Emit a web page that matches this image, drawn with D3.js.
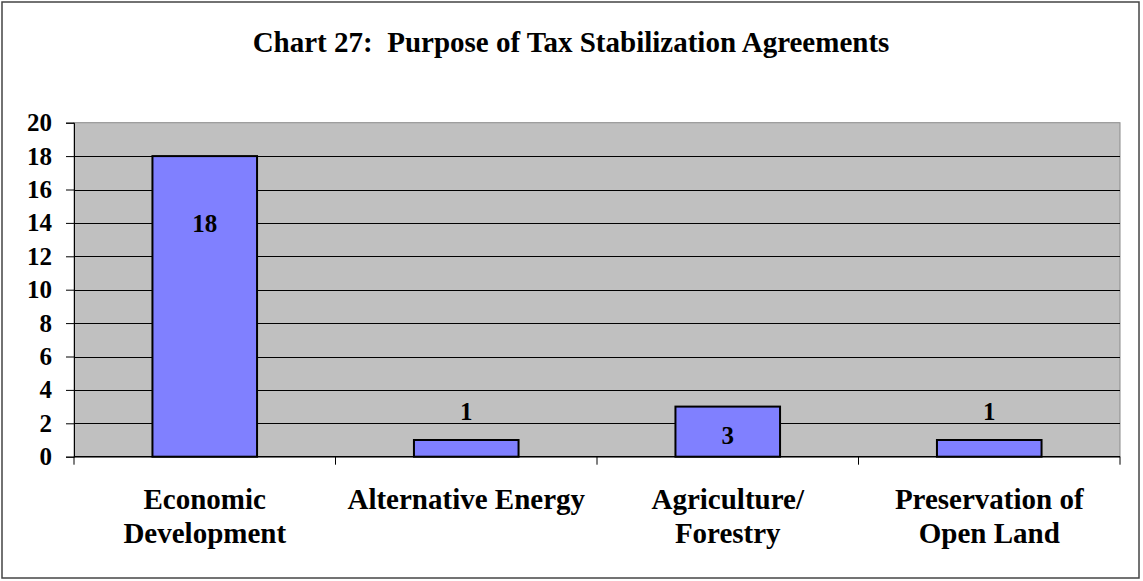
<!DOCTYPE html>
<html lang="en">

<head>
    <meta charset="UTF-8">
    <title>Chart 27: Purpose of Tax Stabilization Agreements</title>
    <script src="https://cdn.jsdelivr.net/npm/d3@7"></script>
    <style>
        html,
        body {
            margin: 0;
            padding: 0;
            background: #fff;
        }

        svg text {
            font-family: "Liberation Serif", "DejaVu Serif", serif;
            font-weight: bold;
            fill: #000;
        }
    </style>
</head>

<body>
    <div id="chart"></div>
    <script>
        // Chart data
        const categories = ['Economic Development', 'Alternative Energy', 'Agriculture/ Forestry', 'Preservation of Open Land'];
        const categoryLines = [['Economic', 'Development'], ['Alternative Energy'], ['Agriculture/', 'Forestry'], ['Preservation of', 'Open Land']];
        const counts = [18, 1, 3, 1];
        const labelAt = [14, 2.7, 1.3, 2.7]; // where Excel put the value labels (in data units)
        const yTicks = [0, 2, 4, 6, 8, 10, 12, 14, 16, 18, 20];

        const width = 1143, height = 581;
        const plot = { left: 74, right: 1120, top: 122.7, bottom: 456.7 };

        const svg = d3.select('#chart').append('svg')
            .attr('width', width)
            .attr('height', height);

        // outer frame
        svg.append('rect')
            .attr('x', 2).attr('y', 2)
            .attr('width', 1137).attr('height', 576)
            .attr('fill', '#fff')
            .attr('stroke', '#444')
            .attr('stroke-width', 1.5);

        // title
        svg.append('text')
            .attr('x', 571)
            .attr('y', 52)
            .attr('text-anchor', 'middle')
            .style('font-size', '29px')
            .style('white-space', 'pre')
            .text('Chart 27:  Purpose of Tax Stabilization Agreements');

        // scales
        const x = d3.scaleBand()
            .domain(categories)
            .range([plot.left, plot.right])
            .paddingInner(0.6)
            .paddingOuter(0.3);

        const xCat = d3.scaleBand()
            .domain(categories)
            .range([plot.left, plot.right]);

        const y = d3.scaleLinear()
            .domain([0, 20])
            .range([plot.bottom, plot.top]);

        // plot background
        svg.append('rect')
            .attr('x', plot.left).attr('y', plot.top)
            .attr('width', plot.right - plot.left)
            .attr('height', plot.bottom - plot.top)
            .attr('fill', '#c0c0c0')
            .attr('stroke', '#8a8a8a')
            .attr('stroke-width', 1);

        // gridlines
        svg.append('g')
            .selectAll('line')
            .data(yTicks.filter(d => d > 0 && d < 20))
            .join('line')
            .attr('x1', plot.left).attr('x2', plot.right)
            .attr('y1', d => Math.round(y(d)) + 0.5)
            .attr('y2', d => Math.round(y(d)) + 0.5)
            .attr('stroke', '#000')
            .attr('stroke-width', 1);

        // y axis
        const yAxis = svg.append('g')
            .attr('transform', `translate(${plot.left},0)`)
            .call(d3.axisLeft(y).tickValues(yTicks).tickSize(8).tickPadding(14));
        yAxis.attr('font-family', null);
        yAxis.select('.domain').attr('stroke', '#000');
        yAxis.selectAll('.tick text').style('font-size', '25px');

        // x axis with ticks between categories
        const xAxis = svg.append('g')
            .attr('transform', `translate(0,${plot.bottom})`);
        xAxis.append('line')
            .attr('x1', plot.left).attr('x2', plot.right)
            .attr('stroke', '#000')
            .attr('stroke-width', 1.5);
        const bounds = categories.map(c => xCat(c)).concat([plot.right]);
        xAxis.selectAll('.sep')
            .data(bounds)
            .join('line')
            .attr('class', 'sep')
            .attr('x1', d => d).attr('x2', d => d)
            .attr('y1', 0).attr('y2', 8)
            .attr('stroke', '#000');

        // category labels
        const catLabels = svg.append('g')
            .selectAll('text')
            .data(categories)
            .join('text')
            .attr('x', d => xCat(d) + xCat.bandwidth() / 2)
            .attr('y', 509)
            .attr('text-anchor', 'middle')
            .style('font-size', '29px');
        catLabels.selectAll('tspan')
            .data((d, i) => categoryLines[i])
            .join('tspan')
            .attr('x', function () { return this.parentNode.getAttribute('x'); })
            .attr('dy', (d, i) => i === 0 ? 0 : 34)
            .text(d => d);

        // bars
        svg.append('g')
            .selectAll('rect')
            .data(counts)
            .join('rect')
            .attr('x', (d, i) => x(categories[i]))
            .attr('y', d => y(d))
            .attr('width', x.bandwidth())
            .attr('height', d => y(0) - y(d))
            .attr('fill', '#8080ff')
            .attr('stroke', '#000')
            .attr('stroke-width', 2);

        // value labels
        svg.append('g')
            .selectAll('text')
            .data(counts)
            .join('text')
            .attr('x', (d, i) => x(categories[i]) + x.bandwidth() / 2)
            .attr('y', (d, i) => y(labelAt[i]))
            .attr('dy', '0.35em')
            .attr('text-anchor', 'middle')
            .style('font-size', '25px')
            .text(d => d);
    </script>
</body>

</html>
